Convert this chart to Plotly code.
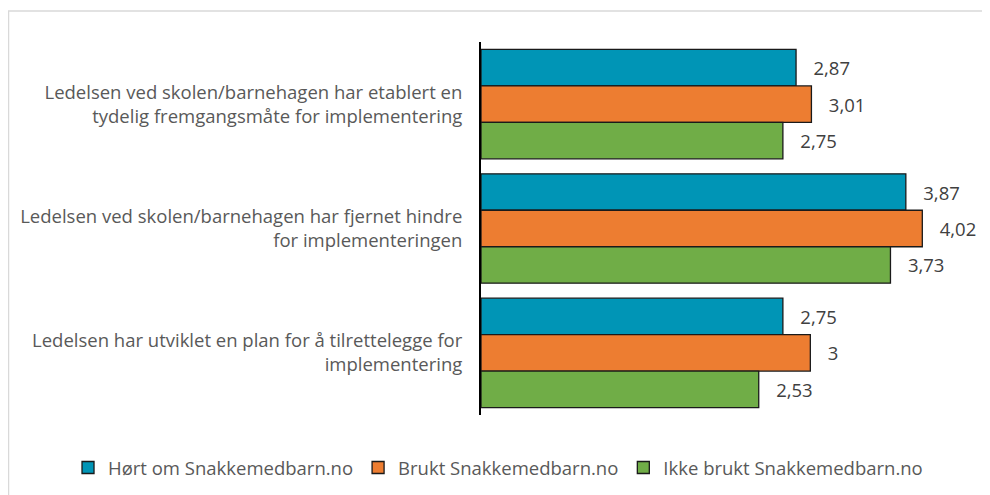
import plotly.graph_objects as go

categories = [
    "Ledelsen ved skolen/barnehagen har etablert en<br>tydelig fremgangsmåte for implementering",
    "Ledelsen ved skolen/barnehagen har fjernet hindre<br>for implementeringen",
    "Ledelsen har utviklet en plan for å tilrettelegge for<br>implementering",
]
hort_om = [2.87, 3.87, 2.75]
brukt = [3.01, 4.02, 3.00]
ikke_brukt = [2.75, 3.73, 2.53]

series = [
    ("Hørt om Snakkemedbarn.no", hort_om, "#0095B6"),
    ("Brukt Snakkemedbarn.no", brukt, "#ED7D31"),
    ("Ikke brukt Snakkemedbarn.no", ikke_brukt, "#70AD47"),
]

def fmt(v):
    # norsk desimalkomma
    return "\u00a0\u00a0\u00a0" + f"{v:g}".replace(".", ",")

fig = go.Figure()
for name, vals, col in series:
    fig.add_trace(go.Bar(
        y=categories, x=vals, name=name, orientation="h",
        marker=dict(color=col, line=dict(color="#1a1a1a", width=1.3)),
        text=[fmt(v) for v in vals], textposition="outside",
        textfont=dict(color="#404040", size=18.5),
        cliponaxis=False,
    ))

# page body has an 8px margin, so the figure is a bit smaller than the window
font = "Open Sans"
fig.update_layout(
    width=982, height=487,
    margin=dict(l=473, r=15, t=34, b=80, autoexpand=False),
    paper_bgcolor="white", plot_bgcolor="white",
    font=dict(family=font, size=18.5, color="#595959"),
    barmode="group", bargap=0.12, bargroupgap=0,
    showlegend=True,
    legend=dict(orientation="h", x=-0.836, xanchor="left", y=-0.142, yanchor="middle",
                bgcolor="rgba(0,0,0,0)",
                font=dict(size=18.5, color="#595959"), traceorder="normal"),
    shapes=[dict(type="rect", xref="paper", yref="paper",
                 x0=-0.9565, x1=1.1, y0=-0.3, y1=1.0831,
                 line=dict(color="#D9D9D9", width=1.5), layer="below")],
)
fig.update_xaxes(range=[0, 4.5], visible=False)
fig.update_yaxes(autorange="reversed", showline=True, linecolor="black", linewidth=2,
                 ticks="", ticklabelstandoff=13, showgrid=False, automargin=False)

fig.write_html("out.html")
